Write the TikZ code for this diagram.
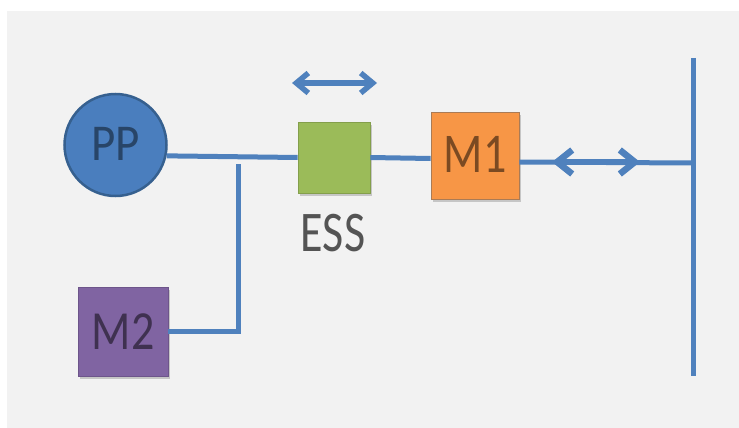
\documentclass[tikz,border=0pt]{standalone}
\usepackage{fontspec}
\setmainfont{Carlito}
\usetikzlibrary{arrows.meta,shadows,calc}
\definecolor{bgc}{HTML}{F2F2F2}
\definecolor{linec}{HTML}{4F81BD}
\definecolor{ppfill}{HTML}{4A7EBE}
\definecolor{ppdraw}{HTML}{36608F}
\definecolor{essc}{HTML}{9BBB59}
\definecolor{m1c}{HTML}{F79646}
\definecolor{m2c}{HTML}{8064A2}
\tikzset{
  wire/.style={draw=linec, line width=5pt},
  boxnode/.style={rectangle, inner sep=0pt, line width=0.8pt, text=black, text opacity=0.5,
     font=\fontsize{46}{46}\selectfont,
     drop shadow={shadow xshift=1.5pt, shadow yshift=-3pt, opacity=0.18, fill=black}},
  dblarrow/.style={draw=linec, line width=5.5pt, {Straight Barb[length=12pt,width=20pt]}-{Straight Barb[length=12pt,width=20pt]}},
}
\begin{document}
\begin{tikzpicture}[x=1pt,y=-1pt]
\useasboundingbox (0,0) rectangle (739,428);
\fill[white] (0,0) rectangle (739,428);
\fill[bgc] (7,11) rectangle (739,428);

% nodes
\node[circle, minimum size=102pt, inner sep=0pt, fill=ppfill, draw=ppdraw, line width=2.5pt,
      text=black, text opacity=0.45, font=\fontsize{47}{47}\selectfont] (PP) at (115.5,145) {\raisebox{3pt}{\scalebox{1}[1.1]{PP}}};
\node[boxnode, minimum width=72pt, minimum height=71pt, fill=essc, draw=essc!85!black] (ESS) at (334,157.5) {};
\node[boxnode, minimum width=88pt, minimum height=87pt, fill=m1c, draw=m1c!60!black!80] (M1) at (475,155.5) {\raisebox{3pt}{\scalebox{1}[1.22]{M1}}};
\node[boxnode, minimum width=90pt, minimum height=89pt, fill=m2c, draw=m2c!85!black] (M2) at (123,331.5) {\scalebox{1}[1.2]{M2}};
\node[text=black, text opacity=0.65, font=\fontsize{46}{46}\selectfont] (ESSlabel) at (333,233) {\scalebox{1}[1.25]{ESS}};

% coordinates
\coordinate (bustop) at (693,58);
\coordinate (busbot) at (693,376);
\coordinate (J) at (693,163);
\coordinate (brtop) at (238,164);
\coordinate (brbot) at (238,331);
\coordinate (a1) at (292,83);
\coordinate (a2) at (377,83);
\coordinate (b1) at (552,162);
\coordinate (b2) at (640,162);

% wires
\draw[wire] (bustop) -- (busbot);
\draw[wire] (PP.-12) -- (ESS.west);
\draw[wire] (ESS.east) -- ($(M1.west)+(0,3)$);
\draw[wire] ($(M1.east)+(0,6.5)$) -- (J);
\draw[wire, line join=miter] (M2.east |- brbot) -- (brbot) -- (brtop);

% arrows
\draw[dblarrow] (a1) -- (a2);
\draw[dblarrow, line width=6.5pt, {Straight Barb[length=15pt,width=24pt]}-{Straight Barb[length=15pt,width=24pt]}] (b1) -- (b2);
\end{tikzpicture}
\end{document}
